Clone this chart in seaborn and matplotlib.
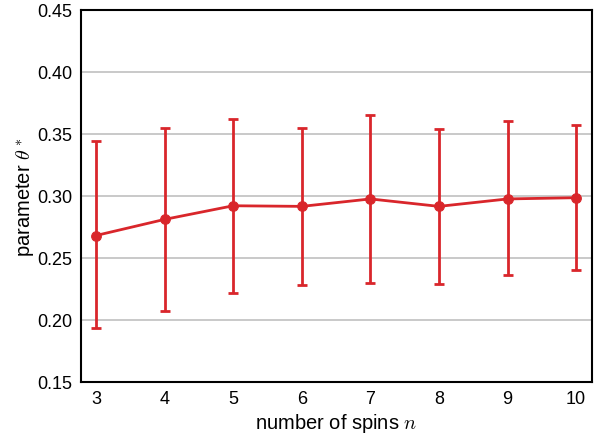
import numpy as np
import pandas as pd
import seaborn as sns
import matplotlib.pyplot as plt

n_spins = [3, 4, 5, 6, 7, 8, 9, 10]
theta = [0.268, 0.281, 0.292, 0.2915, 0.2975, 0.2915, 0.2975, 0.2985]
upper = [0.344, 0.355, 0.362, 0.355, 0.365, 0.354, 0.360, 0.357]
lower = [0.193, 0.207, 0.222, 0.228, 0.230, 0.229, 0.236, 0.240]

df = pd.DataFrame({'n': n_spins, 'theta': theta, 'upper': upper, 'lower': lower})

sns.set_style('white')
plt.rcParams['font.family'] = ['Liberation Sans', 'DejaVu Sans']
plt.rcParams['mathtext.fontset'] = 'cm'

red = '#d9262b'
fig = plt.figure(figsize=(6.04, 4.35), dpi=100)
ax = fig.add_axes([0.134, 0.12, 0.846, 0.855])

ax.errorbar(df['n'], df['theta'],
            yerr=[df['theta'] - df['lower'], df['upper'] - df['theta']],
            fmt='none', ecolor=red, elinewidth=2, capsize=3.5, capthick=2, zorder=3)
sns.lineplot(data=df, x='n', y='theta', color=red, marker='o', markersize=7,
             markeredgecolor=red, linewidth=2, ax=ax, zorder=4)

ax.set_xlim(2.78, 10.23)
ax.set_ylim(0.15, 0.45)
ax.set_xticks(n_spins)
ax.set_yticks(np.arange(0.15, 0.451, 0.05))
ax.set_yticklabels(['%.2f' % v for v in np.arange(0.15, 0.451, 0.05)])
ax.yaxis.grid(True, color='#c0c0c0', linewidth=1.2)
ax.set_axisbelow(True)
for s in ax.spines.values():
    s.set_color('black')
    s.set_linewidth(1.5)
ax.tick_params(labelsize=13, length=0, pad=6, labelcolor='black')
ax.set_xlabel('number of spins $n$', fontsize=14.5, color='black', labelpad=3)
ax.set_ylabel(r'parameter $\theta^*$', fontsize=14.5, color='black', labelpad=0)

fig.savefig('out.png', dpi=100)
